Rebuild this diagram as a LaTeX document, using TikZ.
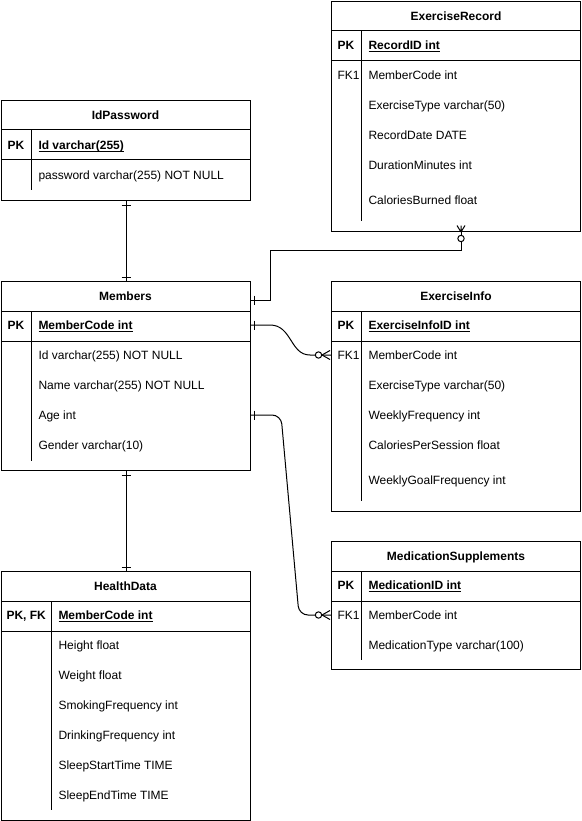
\documentclass[tikz,border=0pt]{standalone}
\usepackage{fontspec}
\setmainfont{Liberation Sans}
\newcommand\keyfield[1]{\setbox0\hbox{\bfseries #1}\rlap{\rule[-2pt]{\wd0}{0.8pt}}\box0}
\begin{document}
\begin{tikzpicture}[x=1pt,y=-1pt,line width=1pt,
  tbl/.style={draw,inner sep=0pt,anchor=north west,minimum width=249pt},
  ttl/.style={font=\bfseries\fontsize{12}{14}\selectfont,anchor=base,inner sep=0pt,yshift=-4.5pt},
  fld/.style={font=\fontsize{12}{14}\selectfont,anchor=base west,inner sep=0pt,yshift=-4.5pt},
  pkey/.style={fld,font=\bfseries\fontsize{12}{14}\selectfont},
  onebarv/.pic={\draw (-4.5,0) -- (4.5,0);},
  onebarh/.pic={\draw (0,-4.5) -- (0,4.5);},
  zmh/.pic={\draw (-9,0) -- (-1,-4.5) (-9,0) -- (-1,4.5); \draw[fill=white] (-12.5,0) circle (3.2);},
  zmv/.pic={\draw (0,1) -- (-4,-5.5) (0,1) -- (4,-5.5) (0,1) -- (0,-5.5); \draw[fill=white] (0,7.5) circle (3.2);}
]
\useasboundingbox (0,0) rectangle (581,821);

% ---------- ExerciseRecord ----------
\node[tbl,minimum height=230pt] (er) at (331,1) {};
\draw (331,31) -- (580,31) (331,61) -- (580,61) (361,31) -- (361,221);
\node[ttl] at (456,16) {ExerciseRecord};
\node[pkey] at (337,45) {PK};
\node[fld] at (368,45) {\keyfield{RecordID int}};
\node[fld] at (337,75) {FK1};
\node[fld] at (368,75) {MemberCode int};
\node[fld] at (368,105) {ExerciseType varchar(50)};
\node[fld] at (368,135) {RecordDate DATE};
\node[fld] at (368,165) {DurationMinutes int};
\node[fld] at (368,200) {CaloriesBurned float};

% ---------- IdPassword ----------
\node[tbl,minimum height=100pt] (idp) at (1,100) {};
\draw (1,130) -- (250,130) (1,160) -- (250,160) (31,130) -- (31,190);
\node[ttl] at (125.5,115) {IdPassword};
\node[pkey] at (7,145) {PK};
\node[fld] at (38,145) {\keyfield{Id varchar(255)}};
\node[fld] at (38,175) {password varchar(255) NOT NULL};

% ---------- Members ----------
\node[tbl,minimum height=189pt] (mem) at (1,281) {};
\draw (1,311) -- (250,311) (1,341) -- (250,341) (31,311) -- (31,461);
\node[ttl] at (125.5,296) {Members};
\node[pkey] at (7,325) {PK};
\node[fld] at (38,325) {\keyfield{MemberCode int}};
\node[fld] at (38,355) {Id varchar(255) NOT NULL};
\node[fld] at (38,385) {Name varchar(255) NOT NULL};
\node[fld] at (38,415) {Age int};
\node[fld] at (38,445) {Gender varchar(10)};

% ---------- ExerciseInfo ----------
\node[tbl,minimum height=230pt] (ei) at (331,281) {};
\draw (331,311) -- (580,311) (331,341) -- (580,341) (361,311) -- (361,501);
\node[ttl] at (456,296) {ExerciseInfo};
\node[pkey] at (337,325) {PK};
\node[fld] at (368,325) {\keyfield{ExerciseInfoID int}};
\node[fld] at (337,355) {FK1};
\node[fld] at (368,355) {MemberCode int};
\node[fld] at (368,385) {ExerciseType varchar(50)};
\node[fld] at (368,415) {WeeklyFrequency int};
\node[fld] at (368,445) {CaloriesPerSession float};
\node[fld] at (368,480) {WeeklyGoalFrequency int};

% ---------- MedicationSupplements ----------
\node[tbl,minimum height=128pt] (ms) at (331,541) {};
\draw (331,571) -- (580,571) (331,601) -- (580,601) (361,571) -- (361,660);
\node[ttl] at (456,556) {MedicationSupplements};
\node[pkey] at (337,585) {PK};
\node[fld] at (368,585) {\keyfield{MedicationID int}};
\node[fld] at (337,615) {FK1};
\node[fld] at (368,615) {MemberCode int};
\node[fld] at (368,645) {MedicationType varchar(100)};

% ---------- HealthData ----------
\node[tbl,minimum height=249pt] (hd) at (1,571) {};
\draw (1,601) -- (250,601) (1,631) -- (250,631) (51,601) -- (51,810);
\node[ttl] at (125.5,586) {HealthData};
\node[pkey] at (6,615) {PK, FK};
\node[fld] at (58,615) {\keyfield{MemberCode int}};
\node[fld] at (58,645) {Height float};
\node[fld] at (58,675) {Weight float};
\node[fld] at (58,705) {SmokingFrequency int};
\node[fld] at (58,735) {DrinkingFrequency int};
\node[fld] at (58,765) {SleepStartTime TIME};
\node[fld] at (58,795) {SleepEndTime TIME};

% ---------- attachment points ----------
\coordinate (idp-b) at (idp.south);
\coordinate (mem-t) at (mem.north);
\coordinate (mem-b) at (mem.south);
\coordinate (hd-t) at (hd.north);
\coordinate (er-b) at (461,231);
\coordinate (mem-r0) at (250,300);
\coordinate (mem-pk) at (250,325);
\coordinate (mem-age) at (250,415);
\coordinate (ei-fk) at (331,355);
\coordinate (ms-fk) at (331,615);

% ---------- relationships ----------
\draw (idp-b) -- (mem-t);
\draw (mem-b) -- (hd-t);
\draw (er-b) -- (461,250) -- (270,250) |- (mem-r0);
\draw (mem-pk) -- (270,325) .. controls (292,325) and (290,355) .. (310,355) -- (ei-fk);
\draw[rounded corners=9pt] (mem-age) -- (281,415) -- (299,615) -- (ms-fk);

% ---------- cardinality marks ----------
\pic at ([yshift=-4pt]idp-b) {onebarv};
\pic at ([yshift=4pt]mem-t) {onebarv};
\pic at ([yshift=-4pt]mem-b) {onebarv};
\pic at ([yshift=4pt]hd-t) {onebarv};
\pic at ([xshift=4pt]mem-r0) {onebarh};
\pic at ([xshift=4pt]mem-pk) {onebarh};
\pic at ([xshift=4pt]mem-age) {onebarh};
\pic at (ei-fk) {zmh};
\pic at (ms-fk) {zmh};
\pic at (er-b) {zmv};
\end{tikzpicture}
\end{document}
